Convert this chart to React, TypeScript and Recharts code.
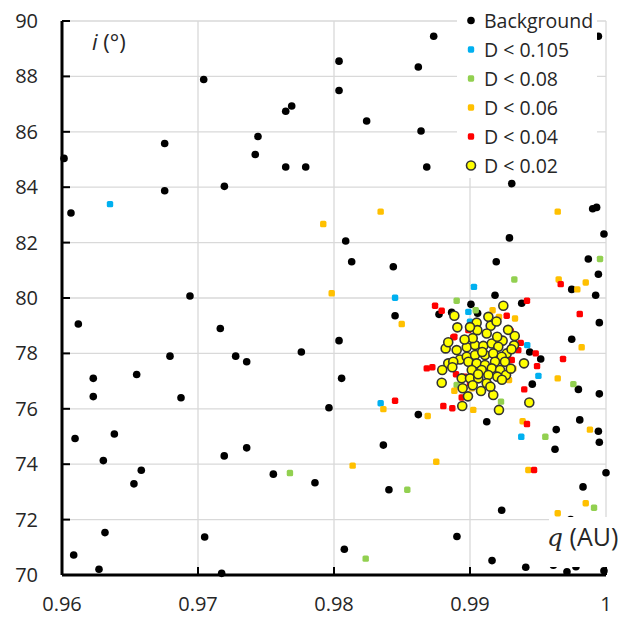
import React from "react";
import { ScatterChart, Scatter, XAxis, YAxis, CartesianGrid, Legend } from "recharts";

type Pt = [number, number];

// perihelion distance q (AU) vs inclination i (deg)
const xTicks = [0.96, 0.97, 0.98, 0.99, 1];
const yTicks = [70, 72, 74, 76, 78, 80, 82, 84, 86, 88, 90];

const background: Pt[] = [
  [0.96015, 85.04], [0.96066, 83.07], [0.96755, 85.58], [0.96755, 83.87], [0.97042, 87.89],
  [0.97194, 84.03], [0.97645, 86.74], [0.97689, 86.93], [0.97441, 85.83], [0.97421, 85.18],
  [0.97645, 84.73], [0.97792, 84.73], [0.96941, 80.07], [0.98733, 89.45], [0.98037, 88.55],
  [0.9862, 88.34], [0.98037, 87.49], [0.9824, 86.39], [0.9864, 86.03], [0.98682, 84.73],
  [0.99307, 84.13], [0.99944, 89.45], [0.99902, 83.22], [0.99931, 83.27], [0.99985, 82.31],
  [0.9929, 82.17], [0.99193, 81.31], [0.9987, 81.41], [0.99748, 80.31], [0.99944, 80.86],
  [0.99924, 80.1], [0.99184, 80.1], [0.98086, 82.06], [0.9813, 81.31], [0.98436, 81.13],
  [0.9612, 79.06], [0.97164, 78.9], [0.9776, 78.05], [0.96794, 77.9], [0.97277, 77.9],
  [0.97358, 77.7], [0.9623, 77.1], [0.96549, 77.24], [0.9623, 76.44], [0.96875, 76.4],
  [0.97963, 76.04], [0.96096, 74.93], [0.96385, 75.09], [0.97193, 74.3], [0.97358, 74.59],
  [0.96304, 74.13], [0.96583, 73.78], [0.96529, 73.29], [0.97554, 73.64], [0.9786, 73.33],
  [0.96316, 71.53], [0.97049, 71.37], [0.96086, 70.72], [0.96272, 70.21], [0.97174, 70.06],
  [0.98449, 79.36], [0.98037, 78.46], [0.98056, 77.1], [0.9862, 75.79], [0.98363, 74.69],
  [0.98404, 73.08], [0.98076, 70.93], [0.98904, 71.39], [0.99162, 70.52], [0.9941, 70.28],
  [0.99233, 72.34], [0.99713, 70.12], [0.99779, 70.3], [0.99613, 70.35], [0.99985, 70.15],
  [0.99951, 79.11], [0.99748, 78.51], [0.9952, 77.8], [0.99439, 78.05], [0.99458, 76.89],
  [0.99797, 76.7], [0.99951, 76.54], [0.99123, 75.53], [0.99634, 75.25], [0.99807, 75.6],
  [0.99944, 75.19], [0.99951, 74.79], [0.99625, 74.54], [1.0, 73.69], [0.99831, 73.18],
  [0.9974, 72.0], [0.9938, 79.81], [0.99007, 79.77], [0.98772, 79.41], [0.98865, 79.48],
  [0.99056, 79.45],
];

const d105: Pt[] = [
  [0.96353, 83.39], [0.98449, 80.01], [0.99029, 80.4], [0.98343, 76.2], [0.99503, 77.19],
  [0.99377, 74.99], [0.98988, 79.5], [0.99, 79.14], [0.99421, 78.3],
];

const d08: Pt[] = [
  [0.97676, 73.68], [0.98539, 73.08], [0.98233, 70.59], [0.99326, 80.67], [0.99956, 81.41],
  [0.9976, 76.89], [0.99554, 74.99], [0.99912, 72.43], [0.98902, 79.9], [0.99042, 79.56],
  [0.99228, 76.26], [0.98902, 76.86],
];

const d06: Pt[] = [
  [0.97921, 82.67], [0.98343, 83.12], [0.97983, 80.17], [0.99645, 83.12], [0.99652, 80.67],
  [0.99789, 80.31], [0.99851, 80.56], [0.98498, 79.06], [0.98363, 75.99], [0.98689, 75.74],
  [0.98137, 73.95], [0.98752, 74.09], [0.99821, 78.22], [0.99645, 77.1], [0.99387, 75.55],
  [0.99882, 75.25], [0.99429, 73.79], [0.99851, 72.59], [0.99645, 72.23], [0.99331, 79.26],
  [0.99213, 79.32], [0.98885, 76.65], [0.99013, 76.74], [0.99024, 75.96], [0.99319, 77.46],
  [0.99287, 77.04], [0.99166, 79.56],
];

const d04: Pt[] = [
  [0.99667, 80.5], [0.99807, 79.42], [0.99684, 77.8], [0.99483, 78.0], [0.99493, 77.54],
  [0.99399, 76.7], [0.99419, 75.45], [0.99471, 73.79], [0.98449, 76.29], [0.99419, 79.9],
  [0.98743, 79.72], [0.98792, 79.54], [0.99299, 78.81], [0.99373, 78.38], [0.98682, 77.46],
  [0.98723, 77.5], [0.98804, 76.1], [0.9887, 76.02], [0.98939, 76.41], [0.98897, 77.25],
  [0.98988, 78.84], [0.9927, 79.36], [0.9916, 76.5], [0.99355, 78.12], [0.98963, 77.16],
  [0.99, 76.92], [0.98877, 78.58], [0.99307, 77.76], [0.98885, 78.6],
];

const d02: Pt[] = [
  [0.99245, 79.72], [0.98885, 79.36], [0.99135, 79.32], [0.99049, 79.11], [0.98907, 78.94],
  [0.99152, 79.0], [0.99054, 78.84], [0.99123, 78.72], [0.99329, 78.63], [0.9924, 78.46],
  [0.99324, 78.29], [0.98821, 78.18], [0.98902, 78.12], [0.98976, 78.22], [0.99037, 78.3],
  [0.99098, 78.27], [0.9916, 78.36], [0.99208, 78.24], [0.9927, 78.0], [0.98926, 77.78],
  [0.98976, 77.88], [0.99037, 77.94], [0.9911, 77.94], [0.99171, 78.0], [0.99233, 77.88],
  [0.9884, 77.64], [0.98877, 77.7], [0.98988, 77.7], [0.99049, 77.64], [0.9911, 77.58],
  [0.99184, 77.7], [0.99257, 77.7], [0.99397, 77.64], [0.98796, 77.4], [0.99013, 77.4],
  [0.99086, 77.4], [0.9916, 77.46], [0.99221, 77.4], [0.98792, 76.94], [0.98939, 77.1],
  [0.99, 77.1], [0.99061, 77.1], [0.99135, 77.22], [0.99201, 77.16], [0.99265, 77.22],
  [0.98946, 76.74], [0.99081, 76.64], [0.99171, 76.5], [0.98943, 76.1], [0.99213, 75.96],
  [0.99436, 76.23], [0.99123, 76.92], [0.9902, 78.55], [0.9909, 78.05], [0.992, 78.6],
  [0.9928, 78.85], [0.9906, 77.25], [0.9887, 77.5], [0.993, 77.45], [0.9915, 76.8],
  [0.9902, 76.85], [0.99, 78.95], [0.99195, 79.15], [0.9884, 78.4], [0.99305, 78.15],
  [0.9896, 78.5], [0.99235, 77.05], [0.98985, 76.45],
];

const toRows = (pts: Pt[]) => pts.map(([q, i]) => ({ q, i }));

const FONT = "'Open Sans', sans-serif";
const TEXT = "#262626";

type Kind = "dot" | "square" | "ring";

const seriesList: { name: string; data: Pt[]; color: string; kind: Kind }[] = [
  { name: "Background", data: background, color: "#000000", kind: "dot" },
  { name: "D < 0.105", data: d105, color: "#00b0f0", kind: "square" },
  { name: "D < 0.08", data: d08, color: "#92d050", kind: "square" },
  { name: "D < 0.06", data: d06, color: "#ffc000", kind: "square" },
  { name: "D < 0.04", data: d04, color: "#ff0000", kind: "square" },
  { name: "D < 0.02", data: d02, color: "#ffff00", kind: "ring" },
];

function Marker({ cx, cy, color, kind }: { cx: number; cy: number; color: string; kind: Kind }) {
  if (kind === "dot") return <circle cx={cx} cy={cy} r={3.8} fill={color} />;
  if (kind === "ring")
    return <circle cx={cx} cy={cy} r={4.5} fill={color} stroke="#333" strokeWidth={1.6} />;
  return <rect x={cx - 3.2} y={cy - 3.2} width={6.4} height={6.4} rx={1.6} fill={color} />;
}

function XTick({ x, y, payload }: any) {
  const v = payload.value as number;
  return (
    <g>
      <line x1={x} x2={x} y1={y} y2={y - 8} stroke="#000" strokeWidth={2} />
      <text x={x} y={y + 36} textAnchor="middle" fontSize={20} fontFamily={FONT} fill={TEXT}>
        {v === 1 ? "1" : v.toFixed(2)}
      </text>
    </g>
  );
}

function YTick({ x, y, payload }: any) {
  return (
    <g>
      <line x1={x} x2={x + 8} y1={y} y2={y} stroke="#000" strokeWidth={2} />
      <text x={x - 24} y={y + 7} textAnchor="end" fontSize={20} fontFamily={FONT} fill={TEXT}>
        {payload.value}
      </text>
    </g>
  );
}

function LegendBox() {
  return (
    <div style={{ paddingTop: 6 }}>
      {seriesList.map((s) => (
        <div
          key={s.name}
          style={{ height: 29, display: "flex", alignItems: "center", fontFamily: FONT, fontSize: 19.5, color: TEXT }}
        >
          <svg width={27} height={29}>
            <Marker cx={14} cy={14.5} color={s.color} kind={s.kind} />
          </svg>
          <span>{s.name}</span>
        </div>
      ))}
    </div>
  );
}

export default function App() {
  return (
    <div style={{ position: "absolute", left: 0, top: 0, width: 631, height: 618, background: "#fff" }}>
      <ScatterChart width={631} height={618} margin={{ top: 21, right: 25, bottom: 0, left: 0 }}>
        <CartesianGrid stroke="#d9d9d9" strokeWidth={1.3} />
        <XAxis
          type="number"
          dataKey="q"
          domain={[0.96, 1]}
          ticks={xTicks}
          interval={0}
          height={43}
          tickSize={0}
          tickMargin={0}
          tickLine={false}
          tick={<XTick />}
          axisLine={{ stroke: "#000", strokeWidth: 3 }}
        />
        <YAxis
          type="number"
          dataKey="i"
          domain={[70, 90]}
          ticks={yTicks}
          interval={0}
          width={62}
          tickSize={0}
          tickMargin={0}
          tickLine={false}
          tick={<YTick />}
          axisLine={{ stroke: "#000", strokeWidth: 3 }}
        />
        {seriesList.map((s) => (
          <Scatter
            key={s.name}
            name={s.name}
            data={toRows(s.data)}
            fill={s.color}
            isAnimationActive={false}
            shape={(p: any) => <Marker cx={p.cx} cy={p.cy} color={s.color} kind={s.kind} />}
          />
        ))}
        <Legend
          layout="vertical"
          align="center"
          verticalAlign="middle"
          content={() => <LegendBox />}
          wrapperStyle={{ left: 457, top: 0, width: 140, height: 178, background: "#fff" }}
        />
      </ScatterChart>
      <svg width={631} height={618} style={{ position: "absolute", left: 0, top: 0, pointerEvents: "none" }}>
        <text x={92} y={50} fontSize={22} fontFamily={FONT} fill={TEXT}>
          <tspan fontStyle="italic">i</tspan> (°)
        </text>
        <rect x={549} y={517} width={82} height={50} fill="#fff" />
        <text x={547} y={546} fontSize={25} fontFamily={FONT} fill={TEXT}>
          <tspan fontFamily="'DejaVu Serif', serif" fontStyle="italic">q</tspan> (AU)
        </text>
      </svg>
    </div>
  );
}
